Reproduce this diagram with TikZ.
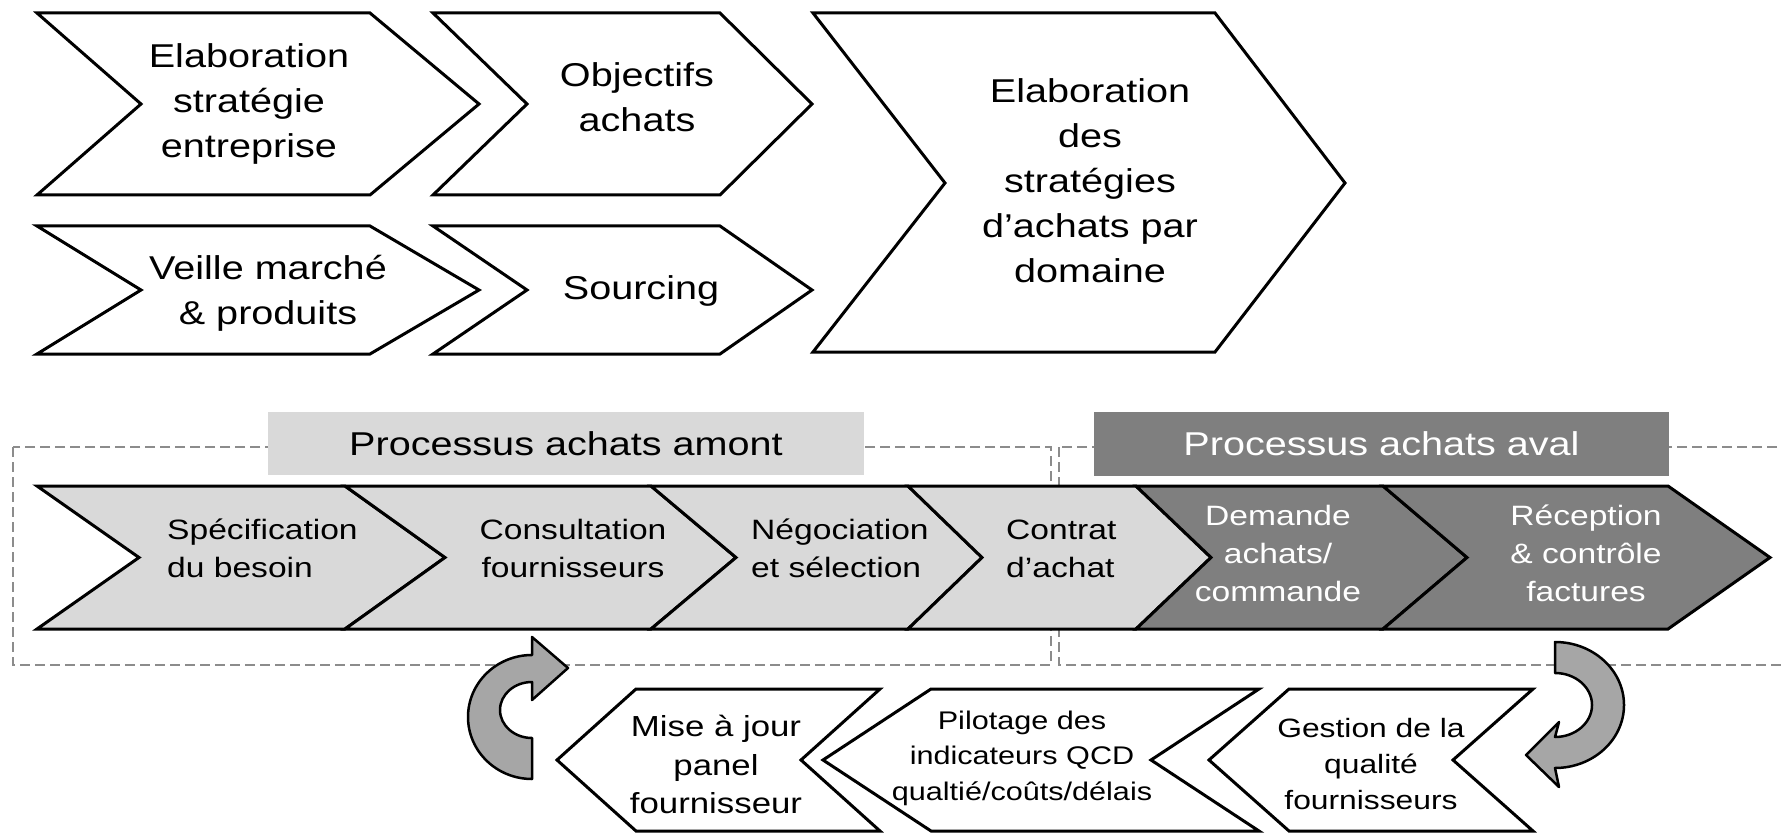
\documentclass[tikz,border=0pt]{standalone}
\usepackage{fontspec}
\setmainfont{Liberation Sans}[FakeStretch=1.2]
\definecolor{lgr}{HTML}{D9D9D9}
\definecolor{dgr}{HTML}{7F7F7F}
\definecolor{agr}{HTML}{A6A6A6}
\definecolor{dashc}{HTML}{8C8C8C}
\tikzset{
  chev/.style={draw=black, line width=3pt, line join=miter, fill=white},
  bandL/.style={draw=black, line width=3pt, line join=miter, fill=lgr},
  bandD/.style={draw=black, line width=3pt, line join=miter, fill=dgr},
  dbox/.style={draw=dashc, line width=2pt, dash pattern=on 10pt off 5pt},
  arr/.style={draw=black, line width=2.5pt, fill=agr, line join=round},
  tbig/.style={font=\fontsize{33}{45}\selectfont, align=center, inner sep=0pt},
  tmid/.style={font=\fontsize{28}{38}\selectfont, align=center, inner sep=0pt},
  tlab/.style={font=\fontsize{33}{40}\selectfont, inner sep=0pt, minimum height=63pt}
}
\begin{document}
\begin{tikzpicture}[x=1pt,y=-1pt]
\useasboundingbox (0,0) rectangle (1782,834);
\clip (0,0) rectangle (1782,834);

% top row chevrons
\draw[chev] (37,13) -- (370,13) -- (479,104) -- (370,195) -- (37,195) -- (141,104) -- cycle;
\draw[chev] (433,13) -- (720,13) -- (812,104) -- (720,195) -- (433,195) -- (527,104) -- cycle;
\draw[chev] (37,226) -- (370,226) -- (479,290) -- (370,354) -- (37,354) -- (141,290) -- cycle;
\draw[chev] (433,226) -- (720,226) -- (812,290) -- (720,354) -- (433,354) -- (527,290) -- cycle;
\draw[chev] (813,13) -- (1215,13) -- (1345,183) -- (1215,352) -- (813,352) -- (945,183) -- cycle;

\node[tbig] (elab) at (249,104) {Elaboration\\stratégie\\entreprise};
\node[tbig] (obj) at (637,97) {Objectifs\\achats};
\node[tbig] (veille) at (268,293) {Veille marché\\\& produits};
\node[tbig] (sourcing) at (641,291) {Sourcing};
\node[tbig] (elabdom) at (1090,181) {Elaboration\\des\\stratégies\\d’achats par\\domaine};

% dashed boxes
\draw[dbox] (13,447) rectangle (1051,665);
\draw[dbox] (1059,447) rectangle (1800,665);

% labels
\node[tlab, fill=lgr, minimum width=596pt] (amont) at (566,443.5) {Processus achats amont};
\node[tlab, fill=dgr, text=white, minimum width=575pt, minimum height=64pt] (aval) at (1381.5,444) {Processus achats aval};

% middle band
\draw[bandL] (37,486) -- (345,486) -- (445,557.5) -- (345,629) -- (37,629) -- (139,557.5) -- cycle;
\draw[bandL] (345,486) -- (651,486) -- (736,557.5) -- (651,629) -- (345,629) -- (445,557.5) -- cycle;
\draw[bandL] (651,486) -- (908,486) -- (982,557.5) -- (908,629) -- (651,629) -- (736,557.5) -- cycle;
\draw[bandL] (908,486) -- (1136,486) -- (1211,557.5) -- (1136,629) -- (908,629) -- (982,557.5) -- cycle;
\draw[bandD] (1136,486) -- (1383,486) -- (1467,557.5) -- (1383,629) -- (1136,629) -- (1211,557.5) -- cycle;
\draw[bandD] (1383,486) -- (1668,486) -- (1770,557.5) -- (1668,629) -- (1383,629) -- (1467,557.5) -- cycle;

\node[tmid, align=left, anchor=west] (spec) at (167,548.5) {Spécification\\du besoin};
\node[tmid] (consult) at (573,548.5) {Consultation\\fournisseurs};
\node[tmid, align=left, anchor=west] (nego) at (751,548.5) {Négociation\\et sélection};
\node[tmid, align=left, anchor=west] (contrat) at (1006,548.5) {Contrat\\d’achat};
\node[tmid, text=white] (demande) at (1278,553) {Demande\\achats/\\commande};
\node[tmid, text=white] (recep) at (1586,553) {Réception\\\& contrôle\\factures};

% bottom chevrons (pointing left)
\draw[chev] (636,689) -- (880,689) -- (801,760) -- (880,831) -- (636,831) -- (557,760) -- cycle;
\draw[chev] (931,689) -- (1259,689) -- (1151,760) -- (1259,831) -- (931,831) -- (823,760) -- cycle;
\draw[chev] (1289,689) -- (1533,689) -- (1453,760) -- (1533,831) -- (1289,831) -- (1209,760) -- cycle;

\node[font=\fontsize{29}{38.5}\selectfont, align=center, inner sep=0pt] (mise) at (716,764.5) {Mise à jour\\panel\\fournisseur};
\node[font=\fontsize{25.5}{35.5}\selectfont, align=center, inner sep=0pt] (pilot) at (1022,758) {Pilotage des\\indicateurs QCD\\qualtié/coûts/délais};
\node[font=\fontsize{26.5}{36}\selectfont, align=center, inner sep=0pt] (gestion) at (1371,764.5) {Gestion de la\\qualité\\fournisseurs};

% curved arrows
\draw[arr] (532,779) arc[start angle=90, end angle=270, x radius=64, y radius=62]
  -- (532,637) -- (568,668) -- (532,700) -- (532,682)
  arc[start angle=270, end angle=90, x radius=32, y radius=28] -- cycle;
\draw[arr] (1555,642) arc[start angle=-90, end angle=90, x radius=69, y radius=63]
  -- (1559,787) -- (1526,755) -- (1559,722) -- (1555,737)
  arc[start angle=90, end angle=-90, x radius=37, y radius=32] -- cycle;
\end{tikzpicture}
\end{document}
